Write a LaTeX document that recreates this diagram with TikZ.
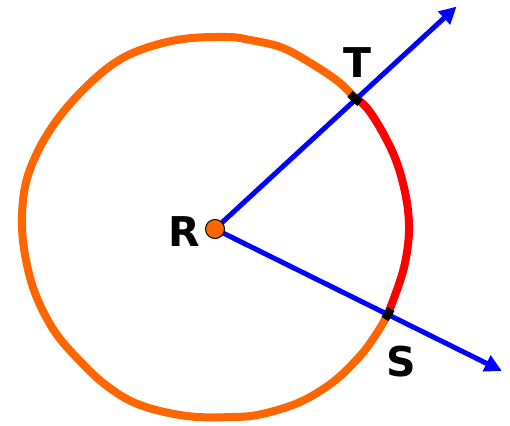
\documentclass[tikz,border=0pt]{standalone}
\usepackage{fontspec}
\setsansfont{DejaVu Sans}
\usepackage{tikz}
\usetikzlibrary{arrows.meta}
\definecolor{circorange}{HTML}{FF6600}
\definecolor{arcred}{HTML}{FF0000}
\definecolor{raysblue}{HTML}{0000FF}

\begin{document}
\begin{tikzpicture}[x=1pt, y=-1pt,
  rim/.style={line width=8pt, line join=round},
  ray/.style={draw=raysblue, line width=5pt, -{Triangle[length=17pt, width=17pt]}, shorten >=-2pt},
  tick/.style={draw=black, line width=8pt},
  lbl/.style={font=\sffamily\bfseries\fontsize{41}{41}\selectfont, inner sep=0pt}
]
  \useasboundingbox (0,0) rectangle (510,425);

  % points on the rim
  \coordinate (R) at (215,229);
  \coordinate (T) at (355,98);
  \coordinate (S) at (388,314);
  \coordinate (tipT) at (455,8);
  \coordinate (tipS) at (500,370);

  % hand drawn circle, major arc
  \draw[rim, draw=circorange] plot[smooth, tension=0.6] coordinates {
    (355,98) (340,83) (317,67) (283,48) (250,40) (227,37) (183,39) (143,49)
    (113,64) (83,90) (57,120) (37,153) (25,187) (22,227) (27,265) (37,298)
    (55,332) (79,360) (107,386) (140,405) (187,416) (233,417) (262,414)
    (300,402) (333,382) (360,356) (377,333) (388,314)};
  % minor arc TS
  \draw[rim, draw=arcred] plot[smooth, tension=0.6] coordinates {
    (355,98) (367,108) (383,133) (397,163) (406,197) (409,226) (407,252)
    (401,278) (388,314)};

  \draw[ray] (R) -- (tipT);
  \draw[ray] (R) -- (tipS);

  \draw[tick] (350,94) -- (360,103);
  \draw[tick] (385,319) -- (391,309);

  \filldraw[fill=circorange, draw=black, line width=1pt] (R) circle (9.5pt);

  \node[lbl] (labT) at (357,63) {T};
  \node[lbl] (labR) at (184,232) {R};
  \node[lbl] (labS) at (401,362) {S};
\end{tikzpicture}
\end{document}
